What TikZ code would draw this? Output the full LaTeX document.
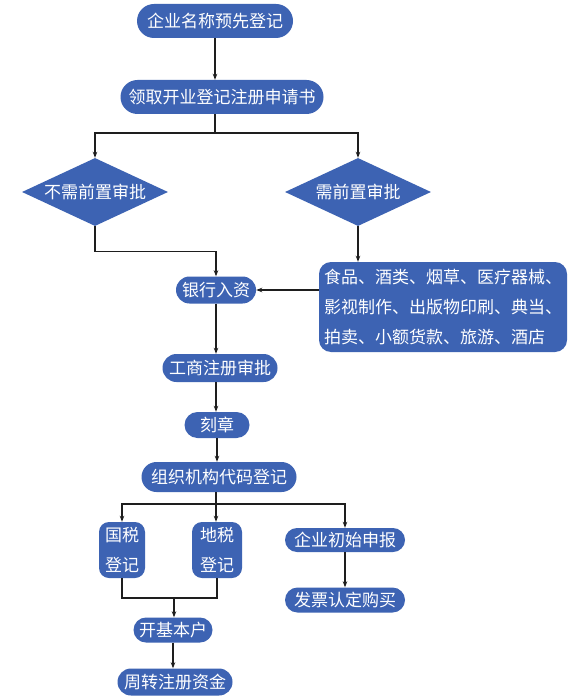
\documentclass[tikz,border=0pt]{standalone}
\usepackage{fontspec}
\usetikzlibrary{shapes.geometric,arrows.meta}
\newfontfamily\cjk{Noto Sans CJK SC}
\definecolor{FlowBlue}{HTML}{3D63B3}
\definecolor{FlowLine}{HTML}{1E1E1E}

\begin{document}
\begin{tikzpicture}[x=1pt,y=-1pt,
    box/.style={fill=FlowBlue,text=white,inner sep=0pt,font=\cjk\fontsize{17}{30}\selectfont},
    pill/.style 2 args={box,minimum width=#1,minimum height=#2,rounded corners=#2/2},
    decide/.style={box,diamond,aspect=2.15,minimum width=146pt,minimum height=68pt},
    flow/.style={draw=FlowLine,line width=1.3pt,-{Stealth[length=6pt,width=4.5pt]}},
    link/.style={draw=FlowLine,line width=1.3pt}]
    \useasboundingbox[fill=white] (0,0) rectangle (574,700);

    \node[pill={156}{34}] (name) at (215,21) {企业名称预先登记};
    \node[pill={203}{34}] (apply) at (222,97) {领取开业登记注册申请书};
    \node[decide] (nopre) at (95,192) {不需前置审批};
    \node[decide] (pre) at (358,192) {需前置审批};
    \node[pill={80}{27}] (bank) at (216,290) {银行入资};
    \node[box,rounded corners=12pt,minimum width=248,minimum height=90,align=left] (trades) at (443,307)
      {食品、酒类、烟草、医疗器械、\\影视制作、出版物印刷、典当、\\拍卖、小额货款、旅游、酒店};
    \node[pill={115}{28}] (approve) at (220,368) {工商注册审批};
    \node[pill={65}{26}] (seal) at (217,425) {刻章};
    \node[pill={155}{30}] (orgcode) at (219,477) {组织机构代码登记};
    \node[box,rounded corners=10pt,minimum width=46,minimum height=56,align=center] (natax) at (122,550) {国税\\登记};
    \node[box,rounded corners=10pt,minimum width=50,minimum height=56,align=center] (loctax) at (217,550) {地税\\登记};
    \node[pill={120}{24}] (report) at (345,540) {企业初始申报};
    \node[pill={120}{25}] (invoice) at (345,600) {发票认定购买};
    \node[pill={79}{25}] (account) at (173,630) {开基本户};
    \node[pill={115}{27}] (capital) at (175,682) {周转注册资金};

    \coordinate (fork) at (215,133);
    \coordinate (fork2) at (216,504);
    \coordinate (join) at (174,598);

    \draw[flow] (name.south) -- (name.south |- apply.north);
    \draw[link] (apply.south -| fork) -- (fork);
    \draw[flow] (fork) -| (nopre.north);
    \draw[flow] (fork) -| (pre.north);
    \draw[flow] (nopre.south) -- ++(0,25) -| (bank.north);
    \draw[flow] (pre.south) -- (pre.south |- trades.north);
    \draw[flow] (trades.west |- bank.east) -- (bank.east);
    \draw[flow] (bank.south) -- (bank.south |- approve.north);
    \draw[flow] (approve.south -| bank.south) -- (seal.north -| bank.south);
    \draw[flow] (seal.south) -- (seal.south |- orgcode.north);
    \draw[link] (orgcode.south -| fork2) -- (fork2);
    \draw[flow] (fork2) -| (natax.north);
    \draw[flow] (fork2) -- (loctax.north -| fork2);
    \draw[flow] (fork2) -| (report.north);
    \draw[flow] (report.south) -- (invoice.north);
    \draw[link] (natax.south) |- (loctax.south |- join) -- (loctax.south);
    \draw[flow] (join) -- (join |- account.north);
    \draw[flow] (account.south) -- (account.south |- capital.north);
  \end{tikzpicture}
\end{document}
